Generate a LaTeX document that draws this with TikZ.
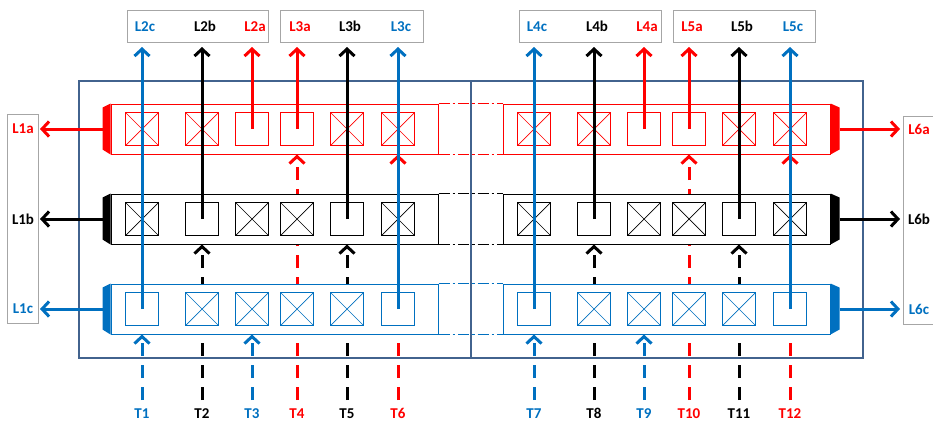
\documentclass[tikz,border=0pt]{standalone}
\usepackage{fontspec}
\setmainfont{Carlito}
\usetikzlibrary{arrows.meta}
\definecolor{myblue}{RGB}{0,112,192}
\definecolor{myred}{RGB}{255,0,0}
\definecolor{framec}{RGB}{66,99,142}
\definecolor{lblgray}{RGB}{166,166,166}
\begin{document}
\begin{tikzpicture}[x=1pt,y=-1pt,
  lbl/.style={font=\bfseries\fontsize{15}{18}\selectfont, inner sep=1pt},
  gbox/.style={draw=lblgray, line width=1pt},
  rowbox/.style={draw, fill=white, line width=1pt, minimum width=327pt, minimum height=50pt, inner sep=0pt},
  sq/.style={draw, minimum size=33pt, inner sep=0pt, line width=1.1pt},
  xsq/.style={sq, path picture={\draw[line width=0.7pt] (path picture bounding box.north west) -- (path picture bounding box.south east) (path picture bounding box.north east) -- (path picture bounding box.south west);}},
  sqk/.style={#1},
  lline/.style={line width=3pt, -{Straight Barb[length=7pt,width=15pt]}},
  tline/.style={line width=3pt, dash pattern=on 13pt off 9pt, -{Straight Barb[length=7pt,width=15pt]}},
  dd/.style={line width=1.2pt, dash pattern=on 11pt off 3pt on 2.5pt off 3pt},
  framebox/.style={draw=framec, line width=2.8pt}
]
\useasboundingbox (0,0) rectangle (933,421);

% T inputs
\foreach \side/\off/\toff in {L/0/0, R/392/6}{
  \foreach \i/\x/\col/\tr [evaluate=\i as \num using {int(\i+\toff)}] in
    {1/142/myblue/c, 2/202/black/b, 3/252/myblue/c, 4/297/myred/a, 5/347/black/b, 6/398/myred/a}{
    \coordinate (tb\side\i) at (\x+\off,400);
    \node[lbl, text=\col, anchor=base] (T\side\i) at (\x+\off,418) {T\num};
  }
}
% rows
\foreach \side/\off in {L/0, R/392}{
  \foreach \r/\col/\yc in {a/myred/129, b/black/219, c/myblue/309}{
    \node[rowbox, draw=\col] (row\side\r) at (274.5+\off,\yc) {};
  }
}
% dashed T arrows, then the rows again on top of them
\foreach \side/\off in {L/0, R/392}{
  \foreach \i/\col/\tr in {1/myblue/c, 2/black/b, 3/myblue/c, 4/myred/a, 5/black/b, 6/myred/a}{
    \draw[tline, draw=\col] (tb\side\i) -- (tb\side\i |- row\side\tr.south);
  }
}
\foreach \side/\off in {L/0, R/392}{
  \foreach \r/\col/\yc in {a/myred/129, b/black/219, c/myblue/309}{
    \node[rowbox, draw=\col] at (274.5+\off,\yc) {};
  }
}
% dash-dot links between the two halves
\foreach \r/\col in {a/myred, b/black, c/myblue}{
  \draw[dd, draw=\col] (rowL\r.north east) -- (rowR\r.north west);
  \draw[dd, draw=\col] (rowL\r.south east) -- (rowR\r.south west);
}
% frames
\draw[framebox] (79,81) rectangle (471,358);
\draw[framebox] (471,81) rectangle (863,358);

% squares
\foreach \side/\off in {L/0, R/392}{
  \foreach \i/\x/\sa/\sb/\sc in {1/142/xsq/xsq/sq, 2/202/xsq/sq/xsq, 3/252/sq/xsq/xsq, 4/297/sq/xsq/xsq, 5/347/xsq/sq/xsq, 6/398/xsq/xsq/sq}{
    \node[sqk/.expanded=\sa, draw=myred] (sq\side a\i) at (\x+\off,129) {};
    \node[sqk/.expanded=\sb, draw=black] (sq\side b\i) at (\x+\off,219) {};
    \node[sqk/.expanded=\sc, draw=myblue] (sq\side c\i) at (\x+\off,309) {};
  }
}

% tabs
\foreach \r/\col in {a/myred, b/black, c/myblue}{
  \fill[\col] (rowL\r.north west) -- ++(-8,4) -- ++(0,42) -- (rowL\r.south west) -- cycle;
  \fill[\col] (rowR\r.north east) -- ++(9,4) -- ++(0,42) -- (rowR\r.south east) -- cycle;
}

% top label boxes
\node[gbox, minimum width=141pt, minimum height=32pt, inner sep=0pt] (box2) at (197.5,26) {};
\node[gbox, minimum width=143pt, minimum height=32pt, inner sep=0pt] (box3) at (351.5,26) {};
\node[gbox, minimum width=142pt, minimum height=32pt, inner sep=0pt] (box4) at (590,26) {};
\node[gbox, minimum width=142pt, minimum height=32pt, inner sep=0pt] (box5) at (744,26) {};
\coordinate (topline) at (0,47);

% outputs going up
\foreach \s/\x/\col/\r/\n/\txt in {
  L/142/myblue/c/1/L2c, L/202/black/b/2/L2b, L/252/myred/a/3/L2a,
  L/297/myred/a/4/L3a, L/347/black/b/5/L3b, L/398/myblue/c/6/L3c,
  R/534/myblue/c/1/L4c, R/594/black/b/2/L4b, R/644/myred/a/3/L4a,
  R/689/myred/a/4/L5a, R/739/black/b/5/L5b, R/790/myblue/c/6/L5c}{
  \coordinate (top\s\n) at (sq\s\r\n.center |- topline);
  \draw[lline, draw=\col] (sq\s\r\n.center) -- (top\s\n);
  \node[lbl, text=\col, anchor=base] (lab\s\n) at (\x+3,31) {\txt};
}

% side label boxes
\draw[gbox] (7,114) rectangle (38,323);
\draw[gbox] (933,116) -- (903,116) -- (903,324) -- (933,324);

% side outputs
\foreach \r/\col/\l/\rr/\yc in {a/myred/L1a/L6a/129, b/black/L1b/L6b/219, c/myblue/L1c/L6c/309}{
  \node[lbl, text=\col] (lab\l) at (23,\yc) {\l};
  \node[lbl, text=\col] (lab\rr) at (919,\yc) {\rr};
  \coordinate (end\l) at (40,\yc);
  \coordinate (end\rr) at (900,\yc);
  \draw[lline, draw=\col] ([xshift=-8pt]rowL\r.west) -- (end\l);
  \draw[lline, draw=\col] ([xshift=9pt]rowR\r.east) -- (end\rr);
}
\end{tikzpicture}
\end{document}
